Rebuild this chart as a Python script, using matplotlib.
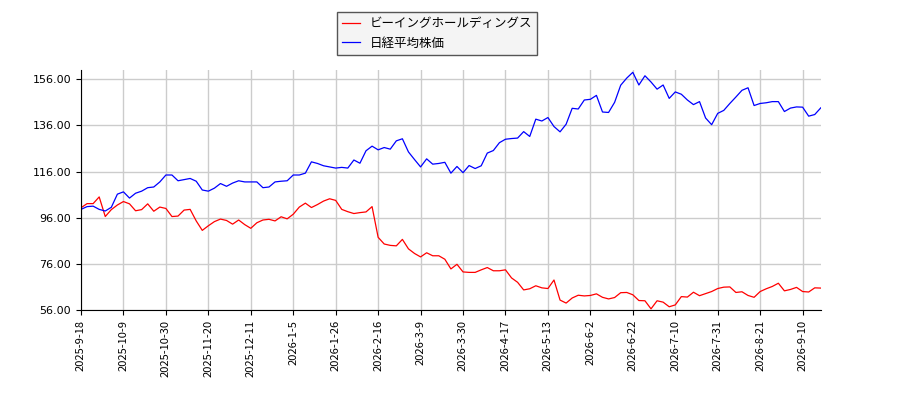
import numpy as np
from matplotlib import pyplot as plt
from matplotlib.ticker import FormatStrFormatter

plt.rcParams['font.family'] = ['Noto Sans CJK JP', 'DejaVu Sans']

# tick labels every 14 trading days
tick_labels = ['2025-9-18', '2025-10-9', '2025-10-30', '2025-11-20', '2025-12-11',
               '2026-1-5', '2026-1-26', '2026-2-16', '2026-3-9', '2026-3-30',
               '2026-4-17', '2026-5-13', '2026-6-2', '2026-6-22', '2026-7-10',
               '2026-7-31', '2026-8-21', '2026-9-10']
tick_step = 14
sample_step = 2  # one reading every 2 trading days

# ビーイングホールディングス (indexed, start = 100)
being = [100.3, 102.1, 102.1, 105, 96.5, 99.5, 101.5, 103, 102, 99,
         99.5, 102, 98.8, 100.6, 100, 96.5, 96.7, 99.3, 99.6, 94.6,
         90.5, 92.5, 94.3, 95.4, 94.8, 93.2, 95, 93, 91.4, 93.8,
         95, 95.3,
         94.6, 96.4, 95.5, 97.5, 100.6, 102.3, 100.4, 101.7, 103.2, 104.2,
         103.5, 99.6, 98.6, 97.8, 98.2, 98.5, 100.8, 87.5, 84.6, 84,
         83.8, 86.6, 82.5, 80.5, 79, 80.8, 79.5, 79.5, 78, 73.8,
         75.8, 72.5, 72.3, 72.3, 73.4, 74.4, 73, 73, 73.4, 69.9,
         68, 64.7, 65.2, 66.5, 65.6, 65.3, 69, 60.3, 59, 61.2,
         62.4, 62.1, 62.3, 63, 61.5, 60.8, 61.4, 63.5, 63.6, 62.6,
         60.1,
         60, 56.5, 60, 59.4, 57.4, 58.2, 61.8, 61.6, 63.7, 62.2,
         63.1, 64, 65.3, 65.9, 66, 63.6, 63.9, 62.3, 61.5, 64,
         65.2, 66.2, 67.6, 64.3, 64.9, 65.8, 64, 63.8, 65.6, 65.5]

# 日経平均株価 (indexed, start = 100)
nikkei = [99.6, 100.8, 101, 99.6, 98.9, 100.5, 106.2, 107.2, 104.5, 106.6,
          107.5, 109, 109.3, 111.5, 114.5, 114.5, 112, 112.5, 113, 111.8,
          108, 107.5, 108.8, 110.8, 109.6, 111, 112, 111.5, 111.5, 111.5,
          109, 109.3,
          111.5, 111.8, 112, 114.5, 114.5, 115.3, 120.2, 119.5, 118.5, 118,
          117.5, 117.8, 117.5, 121, 119.6, 125, 127, 125.4, 126.4, 125.7,
          129.3, 130.2, 124.5, 121.2, 118, 121.5, 119.2, 119.5, 120, 115.3,
          118.2, 115.5, 118.6, 117.3, 118.5, 124, 125.1, 128.5, 130, 130.3,
          130.5, 133.3, 131.2, 138.7, 137.9, 139.4, 135.5, 133.2, 136.5, 143.4,
          143.1, 147, 147.3, 149, 141.8, 141.6, 146, 153.4, 156.5, 159,
          153.5,
          157.5, 154.8, 151.7, 153.5, 147.7, 150.5, 149.5, 147, 145, 146.3,
          139.2, 136.3, 141.2, 142.5, 145.5, 148.3, 151.2, 152.3, 144.6, 145.5,
          145.8, 146.3, 146.3, 142, 143.5, 144, 143.9, 140, 140.7, 143.6]

x = np.arange(len(being)) * sample_step

fig = plt.figure(figsize=(9, 4), dpi=100)
ax = fig.add_axes([0.09, 0.225, 0.822, 0.6])

ax.plot(x, being, color='red', linewidth=0.9, label='ビーイングホールディングス')
ax.plot(x, nikkei, color='blue', linewidth=0.9, label='日経平均株価')

ax.set_xlim(0, x[-1])
ax.set_ylim(56, 160)
ax.set_yticks(np.arange(56, 160, 20))
ax.yaxis.set_major_formatter(FormatStrFormatter('%.2f'))
ax.set_xticks(np.arange(len(tick_labels)) * tick_step)
ax.set_xticklabels(tick_labels, rotation=90)
ax.tick_params(labelsize=8)
for lab in ax.get_yticklabels():
    lab.set_family('DejaVu Sans')
ax.spines['top'].set_visible(False)
ax.spines['right'].set_visible(False)
ax.grid(color='#cccccc', linewidth=1)
ax.set_axisbelow(True)

fig.legend(loc='upper center', bbox_to_anchor=(0.486, 0.985), fontsize=9,
           handlelength=1.4, fancybox=False, edgecolor='#555555',
           facecolor='#f4f4f4', framealpha=1)

fig.savefig('out.png')
